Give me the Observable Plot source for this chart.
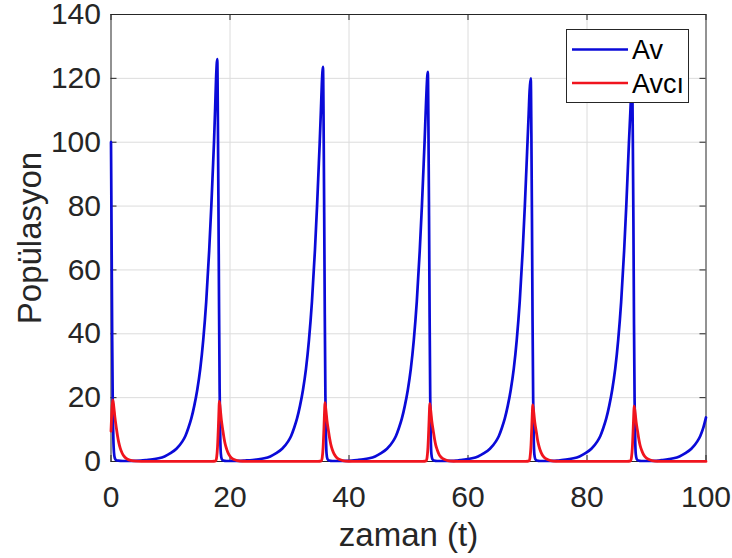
<!DOCTYPE html>
<html>
<head>
<meta charset="utf-8">
<script src="https://cdn.jsdelivr.net/npm/d3@7"></script>
<script src="https://cdn.jsdelivr.net/npm/@observablehq/plot@0.6"></script>
<style>
  html, body { margin: 0; padding: 0; background: #fff; }
  #wrap { position: relative; width: 732px; height: 558px; }
  #legend { position: absolute; left: 566px; top: 29px; width: 123px; height: 74px;
            border: 1px solid #262626; background: #fff; box-sizing: border-box; }
</style>
</head>
<body>
<div id="wrap"></div>
<script>
// ---- Data ----
const xTicks = [0, 20, 40, 60, 80, 100];
const yTicks = [0, 20, 40, 60, 80, 100, 120, 140];
const seriesNames = ["Av", "Avcı"];
const xLabel = "zaman (t)";
const yLabel = "Popülasyon";

// Av (prey): [t, value]
const avCycle1 = [[0,100],[0.1,70],[0.2,38],[0.3,17],[0.4,7],[0.5,2.8],[0.65,1.0],[0.85,0.45],[1.2,0.25],[2,0.15],[3,0.15],[4,0.2],[5,0.28],[6,0.45],[7,0.65],[8,1.0],[9,1.6],[10,2.6],[11,4.0],[12,6.3],[12.5,8],[13,10.5],[13.5,13.5],[14,17.5],[14.5,22.5],[15,29],[15.5,38],[16,50],[16.5,66],[16.86,80],[17.11,91],[17.31,100],[17.51,111],[17.66,120],[17.86,126],[17.96,108],[18.06,80],[18.16,48],[18.26,22],[18.36,8],[18.46,2.5],[18.61,0.8],[18.86,0.3],[19.4,0.15]];
const avCycle2 = [[20.5,0.15],[21.5,0.2],[22.5,0.3],[23.77,0.45],[24.77,0.65],[25.77,1.0],[26.77,1.6],[27.77,2.6],[28.77,4.0],[29.77,6.3],[30.27,8],[30.77,10.5],[31.27,13.5],[31.77,17.5],[32.27,22.5],[32.77,29],[33.27,38],[33.77,50],[34.27,66],[34.63,80],[34.88,91],[35.08,100],[35.28,110],[35.43,118],[35.63,123.6],[35.73,106],[35.83,78],[35.93,46],[36.03,21],[36.13,7.5],[36.23,2.4],[36.38,0.8],[36.63,0.3],[37.2,0.15]];
const avCycle3 = [[38.5,0.15],[39.5,0.2],[40.5,0.3],[41.39,0.45],[42.39,0.65],[43.39,1.0],[44.39,1.6],[45.39,2.6],[46.39,4.0],[47.39,6.3],[47.89,8],[48.39,10.5],[48.89,13.5],[49.39,17.5],[49.89,22.5],[50.39,29],[50.89,38],[51.39,50],[51.89,66],[52.25,80],[52.5,91],[52.7,100],[52.9,110],[53.05,117],[53.25,122],[53.35,105],[53.45,77],[53.55,45],[53.65,20],[53.75,7],[53.85,2.3],[54.0,0.8],[54.25,0.3],[54.8,0.15]];
const avCycle4 = [[56,0.15],[57,0.2],[58,0.3],[58.69,0.45],[59.69,0.65],[60.69,1.0],[61.69,1.6],[62.69,2.6],[63.69,4.0],[64.69,6.3],[65.19,8],[65.69,10.5],[66.19,13.5],[66.69,17.5],[67.19,22.5],[67.69,29],[68.19,38],[68.69,50],[69.19,66],[69.55,80],[69.8,91],[70.0,100],[70.2,109],[70.35,116],[70.55,120],[70.65,103],[70.75,76],[70.85,44],[70.95,20],[71.05,7],[71.15,2.3],[71.3,0.8],[71.55,0.3],[72.1,0.15]];
const avCycle5 = [[73.2,0.15],[74.2,0.2],[75,0.3],[75.74,0.45],[76.74,0.65],[77.74,1.0],[78.74,1.6],[79.74,2.6],[80.74,4.0],[81.74,6.3],[82.24,8],[82.74,10.5],[83.24,13.5],[83.74,17.5],[84.24,22.5],[84.74,29],[85.24,38],[85.74,50],[86.24,66],[86.6,80],[86.85,91],[87.05,100],[87.25,108],[87.4,114],[87.6,118],[87.7,101],[87.8,75],[87.9,43],[88.0,19],[88.1,7],[88.2,2.2],[88.35,0.8],[88.6,0.3],[89.15,0.15]];
const avCycle6 = [[90.3,0.15],[91.3,0.2],[92,0.3],[92.54,0.45],[93.54,0.65],[94.54,1.0],[95.54,1.6],[96.54,2.6],[97.54,4.0],[98.54,6.3],[99.04,8],[99.54,10.5],[100,13.8]];

// Avcı (predator): [t, value]
const avciCycle1 = [[0,9.5],[0.1,14],[0.2,17.5],[0.3,19.3],[0.45,17.5],[0.65,14],[0.9,10.5],[1.1,8],[1.3,6],[1.55,4.2],[1.9,2.5],[2.3,1.4],[2.8,0.7],[3.3,0.35],[4.3,0.09],[5.8,0.02]];
const avciCycle2 = [[17.0,0.03],[17.6,0.2],[17.75,1.2],[17.9,4.5],[18.05,11],[18.15,16.5],[18.2,18.8],[18.35,16.8],[18.55,13],[18.8,9.7],[19.0,7.3],[19.2,5.4],[19.45,3.8],[19.8,2.2],[20.2,1.2],[20.7,0.6],[21.2,0.3],[22.2,0.08],[23.7,0.02]];
const avciCycle3 = [[34.8,0.03],[35.35,0.2],[35.5,1.2],[35.65,4.5],[35.8,11],[35.9,16.2],[35.95,18.4],[36.1,16.5],[36.3,12.8],[36.55,9.6],[36.75,7.2],[36.95,5.3],[37.2,3.7],[37.55,2.2],[37.95,1.2],[38.45,0.6],[38.95,0.3],[39.95,0.08],[41.45,0.02]];
const avciCycle4 = [[52.4,0.03],[52.97,0.2],[53.12,1.2],[53.27,4.5],[53.42,11],[53.52,16],[53.57,18.1],[53.72,16.2],[53.92,12.6],[54.17,9.5],[54.37,7.1],[54.57,5.2],[54.82,3.7],[55.17,2.1],[55.57,1.2],[56.07,0.6],[56.57,0.3],[57.57,0.08],[59.07,0.02]];
const avciCycle5 = [[69.7,0.03],[70.27,0.2],[70.42,1.2],[70.57,4.4],[70.72,10.8],[70.82,15.7],[70.87,17.7],[71.02,15.9],[71.22,12.4],[71.47,9.4],[71.67,7.0],[71.87,5.2],[72.12,3.6],[72.47,2.1],[72.87,1.2],[73.37,0.6],[73.87,0.3],[74.87,0.08],[76.37,0.02]];
const avciCycle6 = [[86.75,0.03],[87.32,0.2],[87.47,1.2],[87.62,4.3],[87.77,10.6],[87.87,15.4],[87.92,17.3],[88.07,15.6],[88.27,12.2],[88.52,9.3],[88.72,6.9],[88.92,5.1],[89.17,3.6],[89.52,2.1],[89.92,1.2],[90.42,0.6],[90.92,0.3],[91.92,0.08],[93.42,0.02],[100,0.02]];

// ---- Build tables ----
const toRows = (arr) => arr.map(([t, v]) => ({t, v}));
const av = toRows([...avCycle1, ...avCycle2, ...avCycle3, ...avCycle4, ...avCycle5, ...avCycle6]);
const avci = toRows([...avciCycle1, ...avciCycle2, ...avciCycle3, ...avciCycle4, ...avciCycle5, ...avciCycle6]);

const colors = {"Av": "#0a0ad8", "Avcı": "#f0141e"};
const W = 732, H = 558;
const mL = 110.5, mR = 26.5, mT = 14, mB = 97;
const plotW = W - mL - mR, plotH = H - mT - mB;
const tick = 6;
const ink = "#262626";

const chart = Plot.plot({
  width: W, height: H,
  marginLeft: mL, marginRight: mR, marginTop: mT, marginBottom: mB,
  style: {fontFamily: "'Liberation Sans', Arial, sans-serif", fontSize: "30px", color: ink, background: "#fff", overflow: "visible"},
  x: {domain: [0, 100], ticks: xTicks},
  y: {domain: [0, 140], ticks: yTicks},
  marks: [
    Plot.gridX(xTicks.slice(1, -1), {stroke: "#dcdcdc", strokeOpacity: 1, strokeWidth: 1}),
    Plot.gridY(yTicks.slice(1, -1), {stroke: "#dcdcdc", strokeOpacity: 1, strokeWidth: 1}),
    Plot.frame({stroke: ink, strokeWidth: 1}),
    Plot.tickX(xTicks, {x: d => d, stroke: ink, insetTop: plotH - tick}),
    Plot.tickX(xTicks, {x: d => d, stroke: ink, insetBottom: plotH - tick}),
    Plot.tickY(yTicks, {y: d => d, stroke: ink, insetRight: plotW - tick}),
    Plot.tickY(yTicks, {y: d => d, stroke: ink, insetLeft: plotW - tick}),
    Plot.line(av, {x: "t", y: "v", stroke: colors["Av"], strokeWidth: 2.7, curve: "monotone-x"}),
    Plot.line(avci, {x: "t", y: "v", stroke: colors["Avcı"], strokeWidth: 2.8, curve: "monotone-x"}),
    Plot.axisX(xTicks, {anchor: "bottom", tickSize: 0, tickPadding: 24, label: null, fill: ink}),
    Plot.axisY(yTicks, {anchor: "left", tickSize: 0, tickPadding: 10, label: null, fill: ink}),
    Plot.text([xLabel], {text: d => d, frameAnchor: "bottom", lineAnchor: "middle", textAnchor: "middle", dy: 74, fontSize: 33, fill: ink}),
    Plot.text([yLabel], {text: d => d, frameAnchor: "left", lineAnchor: "middle", textAnchor: "middle", dx: -81, rotate: -90, fontSize: 33, fill: ink})
  ]
});

const wrap = document.getElementById("wrap");
wrap.appendChild(chart);

// Legend (HTML box over the axes, like MATLAB's legend)
const legend = document.createElement("div");
legend.id = "legend";
const ns = "http://www.w3.org/2000/svg";
const lsvg = document.createElementNS(ns, "svg");
lsvg.setAttribute("width", 121); lsvg.setAttribute("height", 72);
lsvg.style.display = "block";
seriesNames.forEach((name, i) => {
  const y = 19.5 + i * 33.5;
  const ln = document.createElementNS(ns, "line");
  ln.setAttribute("x1", 5); ln.setAttribute("x2", 61);
  ln.setAttribute("y1", y); ln.setAttribute("y2", y);
  ln.setAttribute("stroke", colors[name]); ln.setAttribute("stroke-width", 2.6);
  lsvg.appendChild(ln);
  const tx = document.createElementNS(ns, "text");
  tx.setAttribute("x", 65); tx.setAttribute("y", y);
  tx.setAttribute("dy", "0.36em");
  tx.setAttribute("font-family", "'Liberation Sans', Arial, sans-serif");
  tx.setAttribute("font-size", 27);
  tx.setAttribute("fill", "#000");
  tx.textContent = name;
  lsvg.appendChild(tx);
});
legend.appendChild(lsvg);
wrap.appendChild(legend);
</script>
</body>
</html>
